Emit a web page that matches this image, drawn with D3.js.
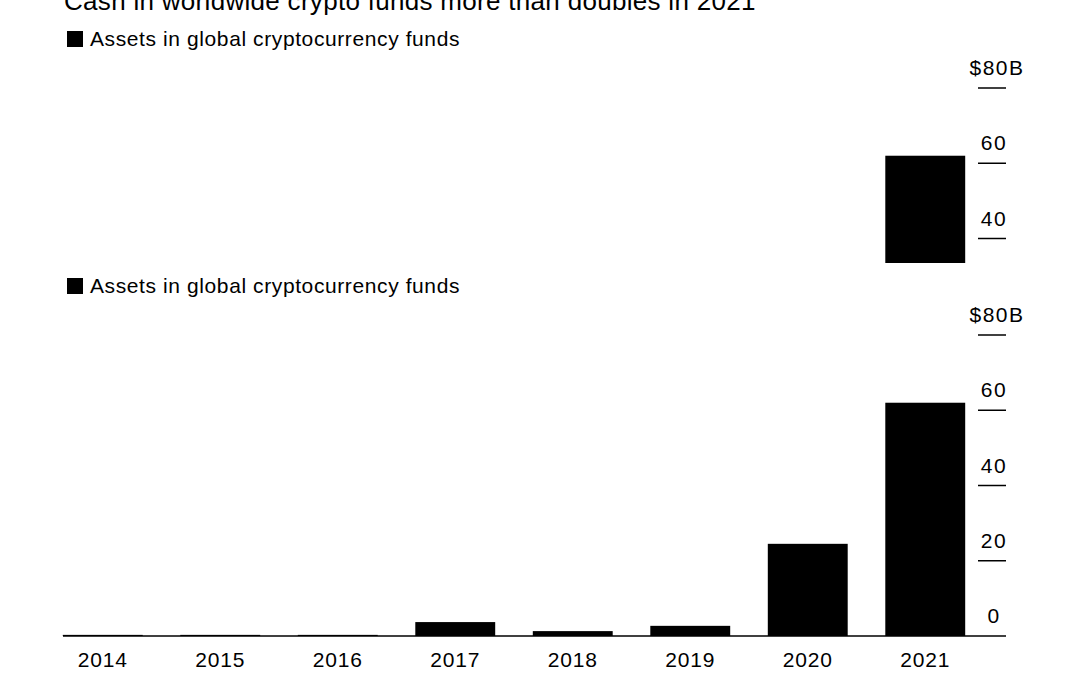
<!DOCTYPE html>
<html>
<head>
<meta charset="utf-8">
<script src="https://cdn.jsdelivr.net/npm/d3@7"></script>
<style>
  body { margin: 0; background: #fff; }
  text { font-family: "Liberation Sans", Arial, sans-serif; fill: #000; }
</style>
</head>
<body>
<div id="chart"></div>
<script>
const years = ["2014", "2015", "2016", "2017", "2018", "2019", "2020", "2021"];
const assets = [0.3, 0.3, 0.3, 3.7, 1.3, 2.7, 24.5, 62];
const yTicks = [0, 20, 40, 60, 80];
const title = "Cash in worldwide crypto funds more than doubles in 2021";
const legendLabel = "Assets in global cryptocurrency funds";

const width = 1080, height = 675;

const svg = d3.select("#chart").append("svg")
    .attr("width", width)
    .attr("height", height);

const x = d3.scaleBand()
    .domain(years)
    .range([44, 984])
    .paddingInner(0.32)
    .paddingOuter(0.16);

const y = d3.scaleLinear()
    .domain([0, 80])
    .range([636, 335]);

// the picture shows the chart twice: a clipped, shifted copy on top
const panels = [
    {shift: -247, clip: [0, 263]},
    {shift: 0, clip: [268, 675]}
];

panels.forEach((p, i) => {
    svg.append("clipPath").attr("id", "clip" + i)
        .append("rect")
        .attr("x", 0).attr("y", p.clip[0])
        .attr("width", width).attr("height", p.clip[1] - p.clip[0]);
    const outer = svg.append("g").attr("clip-path", `url(#clip${i})`);
    const g = outer.append("g").attr("transform", `translate(0,${p.shift})`);
    drawChart(g);
});

function drawChart(g) {
    g.append("text")
        .attr("x", 64).attr("y", 257)
        .attr("font-size", "26px")
        .attr("letter-spacing", "0.3px")
        .text(title);

    g.append("rect")
        .attr("x", 67).attr("y", 278)
        .attr("width", 16).attr("height", 16)
        .attr("fill", "#000");
    g.append("text")
        .attr("x", 90).attr("y", 293)
        .attr("font-size", "21px")
        .attr("letter-spacing", "0.6px")
        .text(legendLabel);

    g.selectAll(".bar")
        .data(years)
        .join("rect")
        .attr("x", d => x(d))
        .attr("width", x.bandwidth())
        .attr("y", (d, i) => y(assets[i]))
        .attr("height", (d, i) => y(0) - y(assets[i]))
        .attr("fill", "#000");

    g.append("line")
        .attr("x1", 63).attr("x2", 1006)
        .attr("y1", y(0)).attr("y2", y(0))
        .attr("stroke", "#000").attr("stroke-width", 1.5);

    yTicks.forEach(t => {
        if (t > 0) {
            g.append("line")
                .attr("x1", 978).attr("x2", 1006)
                .attr("y1", y(t)).attr("y2", y(t))
                .attr("stroke", "#000").attr("stroke-width", 1.5);
        }
        g.append("text")
            .attr("x", t === 80 ? 997 : 994).attr("y", y(t) - 13)
            .attr("text-anchor", "middle")
            .attr("font-size", "21px")
            .attr("letter-spacing", "1.5px")
            .text(t === 80 ? "$80B" : t);
    });

    g.selectAll(".year")
        .data(years)
        .join("text")
        .attr("x", d => x(d) + x.bandwidth() / 2)
        .attr("y", 667)
        .attr("text-anchor", "middle")
        .attr("font-size", "21px")
        .attr("letter-spacing", "0.8px")
        .text(d => d);
}
</script>
</body>
</html>
